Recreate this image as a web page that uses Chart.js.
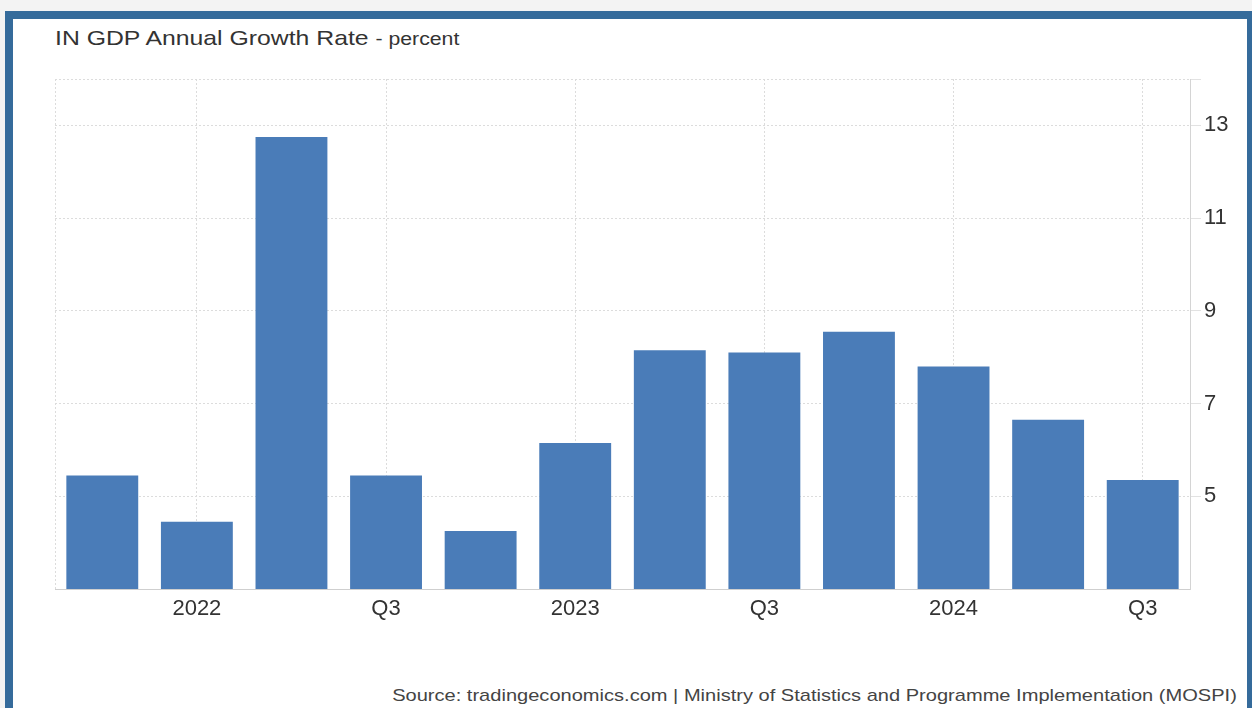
<!DOCTYPE html>
<html>
<head>
<meta charset="utf-8">
<script src="https://cdn.jsdelivr.net/npm/chart.js@4"></script>
<style>
  html, body { margin: 0; padding: 0; }
  body {
    width: 1252px; height: 708px; overflow: hidden;
    background: #f3f3f3;
    font-family: "Liberation Sans", Arial, sans-serif;
  }
  #frame {
    position: absolute; left: 5px; top: 11px;
    width: 1234px; height: 720px;
    border: 8px solid #356b9b;
    background: #fff;
  }
  #title {
    position: absolute; left: 42px; top: 7px;
    font-size: 21px; color: #333; white-space: nowrap;
    transform: scaleX(1.18); transform-origin: left center;
  }
  #title span { font-size: 18px; }
  #chartBox {
    position: absolute; left: 0; top: 0;
    width: 1234px; height: 620px;
  }
  #source {
    position: absolute; right: 10px; top: 667px;
    font-size: 17px; color: #444; white-space: nowrap;
    transform: scaleX(1.18); transform-origin: right center;
  }
</style>
</head>
<body>
<div id="frame">
  <div id="title">IN GDP Annual Growth Rate <span>- percent</span></div>
  <div id="chartBox"><canvas id="gdpChart"></canvas></div>
  <div id="source">Source: tradingeconomics.com | Ministry of Statistics and Programme Implementation (MOSPI)</div>
</div>

<script>
// quarters Q4 2021 .. Q3 2024, only some get a label
const quarters = ['2021Q4', '2022Q1', '2022Q2', '2022Q3', '2022Q4', '2023Q1',
                  '2023Q2', '2023Q3', '2023Q4', '2024Q1', '2024Q2', '2024Q3'];
const tickLabels = ['', '2022', '', 'Q3', '', '2023', '', 'Q3', '', '2024', '', 'Q3'];
const growthRate = [5.45, 4.45, 12.75, 5.45, 4.25, 6.15, 8.15, 8.1, 8.55, 7.8, 6.65, 5.35];
const yTicks = [5, 7, 9, 11, 13, 14];

const gridGray = '#dcdcdc';

// faint dotted line on the left edge of the plot area
const leftEdge = {
    id: 'leftEdge',
    beforeDatasetsDraw(chart) {
        const { ctx, chartArea } = chart;
        ctx.save();
        ctx.strokeStyle = gridGray;
        ctx.lineWidth = 1;
        ctx.setLineDash([2, 2]);
        ctx.beginPath();
        ctx.moveTo(chartArea.left + 0.5, chartArea.top);
        ctx.lineTo(chartArea.left + 0.5, chartArea.bottom);
        ctx.stroke();
        ctx.restore();
    }
};

let ctx = document.getElementById('gdpChart').getContext('2d');
let chart = new Chart(ctx, {
    type: 'bar',
    data: {
        labels: quarters,
        datasets: [{
            data: growthRate,
            backgroundColor: '#4a7cb8',
            borderWidth: 0,
            barPercentage: 0.8,
            categoryPercentage: 0.95
        }]
    },
    options: {
        responsive: true,
        maintainAspectRatio: false,
        animation: false,
        layout: { padding: { top: 60, left: 42, right: 0, bottom: 0 } },
        plugins: {
            legend: { display: false },
            tooltip: { enabled: false }
        },
        scales: {
            x: {
                grid: {
                    offset: false,
                    drawTicks: false,
                    color: c => (c.index !== undefined && tickLabels[c.index]) ? gridGray : 'transparent'
                },
                border: { display: true, color: '#cfcfcf', dash: [2, 2] },
                ticks: {
                    autoSkip: false,
                    maxRotation: 0,
                    padding: 7,
                    color: '#333',
                    font: { family: 'Liberation Sans', size: 22 },
                    callback: (v, i) => tickLabels[i]
                },
                afterFit: s => { s.height = 50; }
            },
            y: {
                position: 'right',
                min: 3,
                max: 14,
                afterBuildTicks: s => { s.ticks = yTicks.map(v => ({ value: v })); },
                grid: { color: gridGray, tickColor: '#e2e2e2', tickLength: 11 },
                border: { display: true, color: '#d4d4d4', dash: [2, 2] },
                ticks: {
                    padding: 3,
                    color: '#333',
                    font: { family: 'Liberation Sans', size: 22 },
                    callback: v => (v === 14 ? '' : v)
                },
                afterFit: s => { s.width = 57; }
            }
        }
    },
    plugins: [leftEdge]
});
</script>
</body>
</html>
